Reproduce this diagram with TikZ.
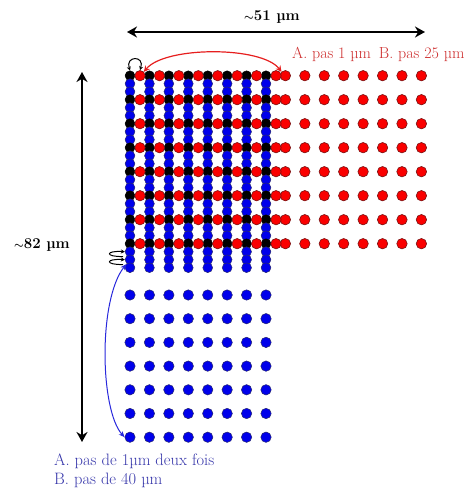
\documentclass[tikz,border=0pt]{standalone}
\usepackage{fontspec}
\usetikzlibrary{arrows.meta}
\definecolor{dotred}{RGB}{250,0,0}
\definecolor{dotredline}{RGB}{120,20,20}
\definecolor{dotblue}{RGB}{0,0,235}
\definecolor{dotblueline}{RGB}{40,40,110}
\definecolor{txtred}{RGB}{205,45,45}
\definecolor{txtblue}{RGB}{55,55,170}
\definecolor{arcred}{RGB}{230,30,30}
\definecolor{arcblue}{RGB}{40,40,220}
\newcommand{\midtilde}{\scalebox{0.75}{$\boldsymbol{\sim}$}}
\usepackage{amsmath}
\begin{document}
\begin{tikzpicture}[x=1pt,y=-1pt,
  reddot/.style={circle,inner sep=0pt,minimum size=10.4pt,fill=dotred,draw=dotredline,line width=0.6pt},
  bluedot/.style={circle,inner sep=0pt,minimum size=9.8pt,fill=dotblue,draw=dotblueline,line width=0.5pt},
  blackdot/.style={circle,inner sep=0pt,minimum size=9.8pt,fill=black,draw=black,line width=0.5pt},
  dimarrow/.style={line width=2pt,{Stealth[length=10pt,width=11pt]}-{Stealth[length=10pt,width=11pt]}},
  redarc/.style={draw=arcred,line width=1.2pt,{Stealth[length=6pt,width=6pt]}-{Stealth[length=6pt,width=6pt]}},
  bluearc/.style={draw=arcblue,line width=1pt,{Stealth[length=6pt,width=5pt]}-{Stealth[length=6pt,width=5pt]}},
  blackarc/.style={draw=black,line width=1pt,-{Stealth[length=4pt,width=4pt]}},
  dimlabel/.style={font=\bfseries\fontsize{15}{17}\selectfont,inner sep=0pt},
  redtext/.style={text=txtred,font=\fontsize{16}{18}\selectfont,inner sep=0pt},
  bluetext/.style={text=txtblue,font=\fontsize{16.5}{18}\selectfont,inner sep=0pt}]
\path[use as bounding box] (0,0) rectangle (471,488);

% upper blue/black columns
\foreach \k in {0,...,7}{
  \foreach \j in {0,...,24}{
    \pgfmathtruncatemacro{\isblack}{(mod(\j,3)==0 && \j<22) ? 1 : 0}
    \ifnum\isblack=1 \def\st{blackdot}\else\def\st{bluedot}\fi
    \node[\st] (u-\k-\j) at ({130+19.43*\k},{75.7+8*\j}) {};
  }
}
% red rows
\foreach \r in {0,...,7}{
  \foreach \k in {0,...,7}{
    \node[reddot] (ra-\r-\k) at ({140+19.43*\k},{75.7+24*\r}) {};
    \node[reddot] (rb-\r-\k) at ({285.4+19.43*\k},{75.7+24*\r}) {};
  }
}
% lower blue block
\foreach \m in {0,...,6}{
  \foreach \k in {0,...,7}{
    \node[bluedot,minimum size=10.4pt] (l-\m-\k) at ({130+19.43*\k},{295+23.7*\m}) {};
  }
}

% dimension arrows
\coordinate (h1) at (127,32);
\coordinate (h2) at (425,32);
\draw[dimarrow] (h1) -- (h2);
\node[dimlabel,anchor=base] (lw) at (272,20) {\midtilde51 µm};
\coordinate (v1) at (82,72);
\coordinate (v2) at (82,442);
\draw[dimarrow] (v1) -- (v2);
\node[dimlabel,anchor=base east] (lh) at (70,248) {\midtilde82 µm};

% red step arc
\draw[redarc] (ra-0-0.north east) .. controls (165,46) and (262,46) .. (rb-0-0.north west);
\node[redtext,anchor=base west] (rt) at (292,58) {A. pas 1 µm\enspace B. pas 25 µm};

% black small arc at top
\draw[draw=black,line width=1pt,{Stealth[length=4pt,width=4pt]}-{Stealth[length=4pt,width=4pt]}]
  (u-0-0.north) .. controls +(-5,-15) and +(5,-15) .. (ra-0-0.north);

% black coils on left
\coordinate (c1) at (123,256.5);
\coordinate (c2) at (123,264.5);
\draw[blackarc] (c1) .. controls (105,257) and (105,250.5) .. (u-0-22.west);
\draw[blackarc] (c2) .. controls (105,265) and (105,258.5) .. (u-0-23.west);

% blue step arc
\draw[bluearc] (u-0-24.north west) .. controls (98,300) and (100,410) .. (l-6-0.west);
\node[bluetext,anchor=base west] (bt1) at (54,465) {A. pas de 1µm deux fois};
\node[bluetext,anchor=base west] (bt2) at (54,484) {B. pas de 40 µm};
\end{tikzpicture}
\end{document}
